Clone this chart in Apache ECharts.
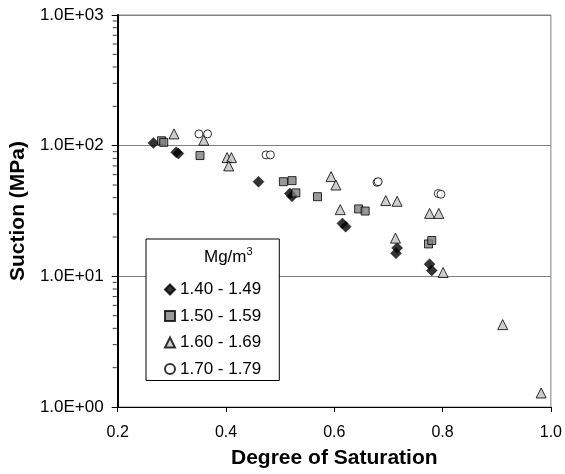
<!DOCTYPE html>
<html>
<head>
<meta charset="utf-8">
<script src="https://cdn.jsdelivr.net/npm/echarts@6/dist/echarts.min.js"></script>
<style>
  html, body { margin: 0; padding: 0; background: #fff; }
  #chart { width: 565px; height: 474px; }
</style>
</head>
<body>
<div id="chart"></div>
<script>
// Densidad seca por rango (Mg/m3): [grado de saturacion, succion MPa]
const d140 = [
  [0.266, 105], [0.308, 89], [0.312, 87], [0.460, 53], [0.518, 43],
  [0.522, 41], [0.615, 25.4], [0.621, 24.0], [0.716, 16.5], [0.714, 15.0],
  [0.776, 12.4], [0.780, 11.1]
];
const d150 = [
  [0.281, 109], [0.285, 106], [0.352, 84], [0.506, 53], [0.522, 54],
  [0.529, 43.5], [0.569, 40.7], [0.645, 32.8], [0.657, 31.6], [0.774, 17.7],
  [0.780, 18.8]
];
const d160 = [
  [0.304, 123], [0.359, 110], [0.402, 81], [0.410, 81], [0.405, 70],
  [0.594, 58], [0.603, 50], [0.611, 32.4], [0.695, 38], [0.716, 37.5],
  [0.713, 19.6], [0.776, 30.3], [0.793, 30.3], [0.801, 10.7], [0.911, 4.27],
  [0.982, 1.28]
];
const d170 = [
  [0.350, 123], [0.366, 123], [0.474, 85], [0.482, 85], [0.679, 52.4],
  [0.681, 53], [0.792, 43], [0.797, 42.5]
];

const nombres = ["1.40 - 1.49", "1.50 - 1.59", "1.60 - 1.69", "1.70 - 1.79"];
const xTicks = [0.2, 0.4, 0.6, 0.8, 1.0];

// ticks menores del eje log (2..9 de cada decada)
const minorVals = [];
[1, 10, 100].forEach((d) => {
  for (let k = 2; k <= 9; k++) minorVals.push(k * d);
});

const fuente = "'Liberation Sans', Arial, sans-serif";

const chart = echarts.init(document.getElementById("chart"));

const option = {
  backgroundColor: "#fff",
  animation: false,
  textStyle: { fontFamily: fuente },
  grid: {
    left: 117,
    top: 15,
    width: 435,
    height: 392,
    show: true,
    borderColor: "#808080",
    borderWidth: 1,
  },
  xAxis: {
    type: "value",
    min: xTicks[0],
    max: xTicks[xTicks.length - 1],
    interval: 0.2,
    name: "Degree of Saturation",
    nameLocation: "middle",
    nameGap: 41,
    nameTextStyle: { fontSize: 21, fontWeight: "bold", color: "#000", fontFamily: fuente },
    axisLine: { lineStyle: { color: "#000", width: 1 } },
    axisTick: { show: true, inside: false, length: 5, lineStyle: { color: "#000" } },
    axisLabel: {
      fontSize: 16,
      color: "#000",
      margin: 18,
      fontFamily: fuente,
      formatter: (v) => v.toFixed(1),
    },
    splitLine: { show: false },
  },
  yAxis: {
    type: "log",
    logBase: 10,
    min: 1,
    max: 1000,
    name: "Suction (MPa)",
    nameLocation: "middle",
    nameGap: 45,
    nameTextStyle: { fontSize: 21, fontWeight: "bold", color: "#000", fontFamily: fuente },
    axisLine: { show: true, lineStyle: { color: "#000", width: 2 } },
    axisTick: { show: true, inside: false, length: 6, lineStyle: { color: "#000" } },
    axisLabel: {
      fontSize: 17,
      color: "#000",
      margin: 14,
      fontFamily: fuente,
      formatter: function (v) {
        const e = Math.round(Math.log10(v));
        return "1.0E+" + String(e).padStart(2, "0");
      },
    },
    splitLine: { show: true, lineStyle: { color: "#808080", width: 1 } },
  },
  legend: {
    data: nombres,
    orient: "vertical",
    left: 146,
    top: 239,
    padding: [42, 18, 3, 18],
    itemGap: 9.5,
    itemWidth: 10,
    itemHeight: 10,
    backgroundColor: "#fff",
    borderColor: "#000",
    borderWidth: 1,
    borderRadius: 0,
    textStyle: { fontSize: 17, color: "#000", fontFamily: fuente },
  },
  graphic: [
    {
      type: "text",
      left: 204,
      top: 246,
      z: 100,
      style: {
        text: "Mg/m{sup|3}",
        fontSize: 17,
        lineHeight: 22,
        fill: "#000",
        fontFamily: fuente,
        rich: {
          sup: { fontSize: 11, verticalAlign: "top", lineHeight: 22, fill: "#000", fontFamily: fuente },
        },
      },
    },
  ],
  series: [
    {
      name: nombres[0],
      type: "scatter",
      symbol: "diamond",
      symbolSize: 11,
      data: d140,
      itemStyle: { color: "#000", borderColor: "#000", borderWidth: 0.5 },
    },
    {
      name: nombres[1],
      type: "scatter",
      symbol: "rect",
      symbolSize: 8,
      data: d150,
      itemStyle: { color: "#808080", borderColor: "#000", borderWidth: 1 },
    },
    {
      name: nombres[2],
      type: "scatter",
      symbol: "triangle",
      symbolSize: 10,
      data: d160,
      itemStyle: { color: "#c0c0c0", borderColor: "#000", borderWidth: 1 },
    },
    {
      name: nombres[3],
      type: "scatter",
      symbol: "circle",
      symbolSize: 8,
      data: d170,
      itemStyle: { color: "#fff", borderColor: "#000", borderWidth: 1 },
    },
    {
      name: "minor",
      type: "scatter",
      symbol: "rect",
      symbolSize: [4, 1],
      symbolOffset: [-3, 0],
      clip: false,
      silent: true,
      data: minorVals.map((v) => [xTicks[0], v]),
      itemStyle: { color: "#000" },
      z: 1,
    },
  ],
};
chart.setOption(option);
</script>
</body>
</html>
